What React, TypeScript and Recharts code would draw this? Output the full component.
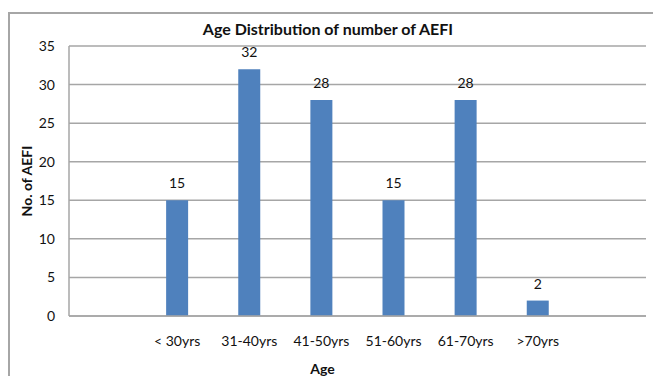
import { BarChart, Bar, XAxis, YAxis, CartesianGrid, LabelList } from 'recharts';

// padded with an empty slot on each side, like the original sheet
const ageGroups = ['', '< 30yrs', '31-40yrs', '41-50yrs', '51-60yrs', '61-70yrs', '>70yrs', ''];
const aefiCounts = [null, 15, 32, 28, 15, 28, 2, null];
const yTicks = [0, 5, 10, 15, 20, 25, 30, 35];

const FONT = 'Lato, "Open Sans", sans-serif';
const BAR_BLUE = '#4f81bd';
const GRID_GREY = '#a6a6a6';

const data = ageGroups.map((age, i) => ({ age, count: aefiCounts[i] }));

function YTitle({ viewBox }: any) {
  const cx = viewBox.x + 26;
  const cy = viewBox.y + viewBox.height / 2;
  return (
    <text
      x={cx}
      y={cy}
      transform={`rotate(-90 ${cx} ${cy})`}
      textAnchor="middle"
      dominantBaseline="central"
      fontFamily={FONT}
      fontWeight={700}
      fontSize={14}
      fill="#111"
    >
      No. of AEFI
    </text>
  );
}

export default function App() {
  return (
    <div
      style={{
        position: 'absolute',
        left: 0,
        top: 0,
        width: 653,
        height: 376,
        background: '#fff',
        overflow: 'hidden',
        fontFamily: FONT,
      }}
    >
      <div
        style={{
          position: 'absolute',
          left: 8,
          top: 12,
          width: 700,
          height: 400,
          borderLeft: `2px solid ${GRID_GREY}`,
          borderTop: `2px solid ${GRID_GREY}`,
        }}
      />
      <div
        style={{
          position: 'absolute',
          left: 0,
          width: 656,
          top: 19,
          textAlign: 'center',
          fontWeight: 700,
          fontSize: 16,
          color: '#111',
        }}
      >
        Age Distribution of number of AEFI
      </div>
      <BarChart
        width={653}
        height={376}
        data={data}
        margin={{ top: 46, right: 7, bottom: 0, left: 0 }}
        style={{ position: 'absolute', left: 0, top: 0 }}
      >
        <CartesianGrid vertical={false} stroke={GRID_GREY} strokeWidth={1.5} />
        <YAxis
          width={69}
          domain={[0, 35]}
          ticks={yTicks}
          interval={0}
          tickLine={false}
          axisLine={{ stroke: GRID_GREY, strokeWidth: 1.5 }}
          tickSize={0}
          tickMargin={14}
          tick={{ fill: '#111', fontSize: 14, fontFamily: FONT }}
          label={<YTitle />}
        />
        <XAxis
          dataKey="age"
          height={60}
          interval={0}
          tickLine={false}
          axisLine={{ stroke: GRID_GREY, strokeWidth: 1.5 }}
          tickSize={0}
          tickMargin={20}
          tick={{ fill: '#111', fontSize: 14, fontFamily: FONT }}
          label={{
            value: 'Age',
            position: 'insideBottom',
            offset: 2,
            dx: -35,
            fill: '#111',
            fontSize: 14,
            fontWeight: 700,
            fontFamily: FONT,
          }}
        />
        <Bar dataKey="count" fill={BAR_BLUE} barSize={22} isAnimationActive={false}>
          <LabelList
            dataKey="count"
            position="top"
            offset={12}
            fill="#111"
            fontSize={14}
            fontFamily={FONT}
          />
        </Bar>
      </BarChart>
    </div>
  );
}
